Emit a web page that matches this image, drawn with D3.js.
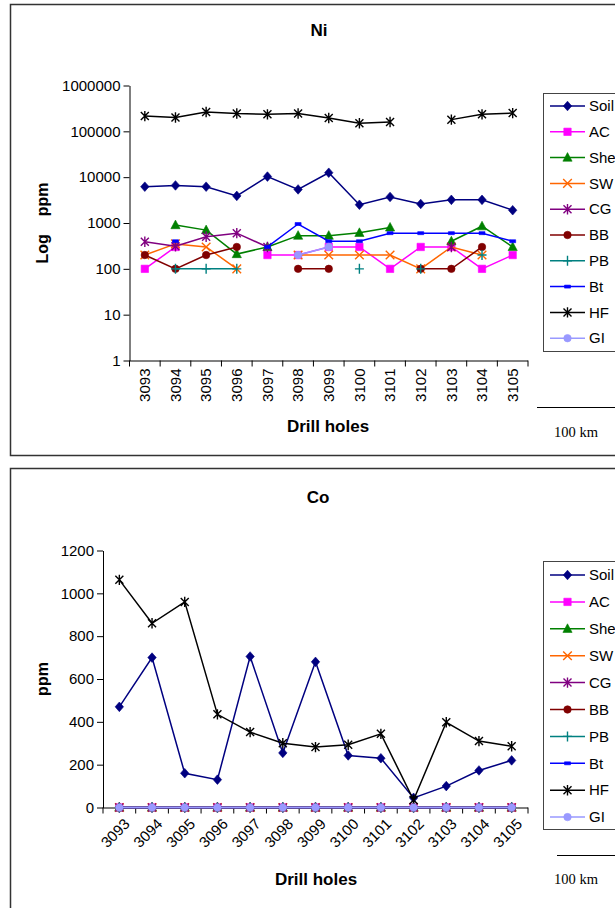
<!DOCTYPE html>
<html>
<head>
<meta charset="utf-8">
<script src="https://cdn.jsdelivr.net/npm/d3@7"></script>
<style>
  body { margin: 0; background: #fff; }
  svg { font-family: "Liberation Sans", Arial, sans-serif; }
</style>
</head>
<body>
<script>
const W = 615, H = 908

const HOLES = ['3093','3094','3095','3096','3097','3098','3099','3100','3101','3102','3103','3104','3105']
const SERIES = ['Soil','AC','She','SW','CG','BB','PB','Bt','HF','GI']
const COLORS = ['#000080','#ff00ff','#008000','#ff6600','#800080','#800000','#008080','#0000ff','#000000','#9999ff']
const MARKERS = ['diamond','square','triangle','x','star','circle','plus','dash','star','circle']

// Ni (ppm, log scale) - null = no sample
const NI_SOIL = [6200, 6600, 6200, 3900, 10300, 5400, 12500, 2500, 3700, 2600, 3200, 3200, 1900]
const NI_AC   = [100, 300, null, null, 200, 200, 300, 300, 100, 300, 300, 100, 200]
const NI_SHE  = [null, 900, 700, 210, 300, 530, 530, 610, 800, null, 400, 850, 300]
const NI_SW   = [200, 350, 300, 100, null, 200, 200, 200, 200, 100, 300, 200, null]
const NI_CG   = [390, 310, 500, 600, 300, null, null, null, null, null, 300, null, null]
const NI_BB   = [200, 100, 200, 300, null, 100, 100, null, null, 100, 100, 300, null]
const NI_PB   = [null, 100, 100, 100, null, null, null, 100, null, 100, null, 200, null]
const NI_BT   = [null, 400, null, null, 300, 950, 400, 400, 600, 600, 600, 600, 400]
const NI_HF   = [215000, 200000, 265000, 245000, 235000, 245000, 195000, 150000, 160000, null, 180000, 235000, 250000]
const NI_GI   = [null, null, null, null, null, 200, 300, null, null, null, null, null, null]
const NI_TICKS = [1, 10, 100, 1000, 10000, 100000, 1000000]

// Co (ppm)
const CO_SOIL = [470, 700, 160, 130, 705, 255, 680, 243, 230, 45, 100, 173, 220]
const CO_AC   = [0, 0, 0, 0, 0, 0, 0, 0, 0, 0, 0, 0, 0]
const CO_SHE  = [0, 0, 0, 0, 0, 0, 0, 0, 0, 0, 0, 0, 0]
const CO_SW   = [0, 0, 0, 0, 0, 0, 0, 0, 0, 0, 0, 0, 0]
const CO_CG   = [0, 0, 0, 0, 0, 0, 0, 0, 0, 0, 0, 0, 0]
const CO_BB   = [0, 0, 0, 0, 0, 0, 0, 0, 0, 0, 0, 0, 0]
const CO_PB   = [0, 0, 0, 0, 0, 0, 0, 0, 0, 0, 0, 0, 0]
const CO_BT   = [0, 0, 0, 0, 0, 0, 0, 0, 0, 0, 0, 0, 0]
const CO_HF   = [1063, 860, 960, 435, 352, 300, 282, 293, 344, 35, 398, 310, 286]
const CO_GI   = [0, 0, 0, 0, 0, 0, 0, 0, 0, 0, 0, 0, 0]
const CO_TICKS = [0, 200, 400, 600, 800, 1000, 1200]

const NI_DATA = [NI_SOIL, NI_AC, NI_SHE, NI_SW, NI_CG, NI_BB, NI_PB, NI_BT, NI_HF, NI_GI]
const CO_DATA = [CO_SOIL, CO_AC, CO_SHE, CO_SW, CO_CG, CO_BB, CO_PB, CO_BT, CO_HF, CO_GI]

const FILLED = ['diamond','square','triangle','circle','dash']

function marker_path(kind) {
  switch(kind) {
    case 'diamond':  return 'M0,-4.8L4.2,0L0,4.8L-4.2,0Z'
    case 'square':   return 'M-3.7,-3.7H3.7V3.7H-3.7Z'
    case 'triangle': return 'M0,-5L4.6,3.6H-4.6Z'
    case 'circle':   return d3.symbol(d3.symbolCircle, 44)()
    case 'dash':     return 'M-3,-1.5H3V1.5H-3Z'
    case 'x':        return 'M-4.3,-4.3L4.3,4.3M-4.3,4.3L4.3,-4.3'
    case 'plus':     return 'M-4.5,0H4.5M0,-5V5'
    case 'star':     return 'M-4,-4L4,4M-4,4L4,-4M0,-5.2V5.2'
  }
}

function draw_marker(sel, kind, color) {
  let filled = FILLED.indexOf(kind) >= 0
  sel.append('path')
    .attr('d', marker_path(kind))
    .attr('fill', filled ? color : 'none')
    .attr('stroke', color)
    .attr('stroke-width', filled ? 0.6 : 1.4)
}

let svg = d3.select('body').append('svg')
  .attr('width', W)
  .attr('height', H)

function panel(cfg) {
  let g = svg.append('g')

  // frame
  g.append('rect')
    .attr('x', 10.5).attr('y', cfg.frame[0] + 0.5)
    .attr('width', 700).attr('height', cfg.frame[1] - cfg.frame[0])
    .attr('fill', 'none').attr('stroke', '#333').attr('stroke-width', 1.5)

  g.append('text')
    .attr('x', cfg.titleX).attr('y', cfg.titleY)
    .attr('text-anchor', 'middle')
    .style('font-weight', 'bold').style('font-size', '17px')
    .text(cfg.title)

  let x = d3.scaleBand()
    .domain(HOLES)
    .range([cfg.left, 528])

  let y = cfg.y

  // y axis
  let yAxis = g.append('g')
    .attr('transform', 'translate(' + cfg.left + ',0)')
    .call(d3.axisLeft(y).tickValues(cfg.ticks).tickFormat(d3.format('d')).tickSize(6).tickSizeOuter(0))
  yAxis.select('.domain').attr('stroke', '#000')
  yAxis.selectAll('.tick text').style('font-size', '15px').attr('x', -9).attr('fill', '#000')

  g.append('text')
    .attr('transform', 'translate(' + cfg.yLabelX + ',' + (y.range()[0] + y.range()[1]) / 2 + ')rotate(-90)')
    .attr('text-anchor', 'middle')
    .attr('dy', '0.35em')
    .style('font-weight', 'bold').style('font-size', '16px')
    .style('white-space', 'pre')
    .text(cfg.yLabel)

  // x axis: ticks between categories, labels at centres
  let base = y.range()[0]
  g.append('line')
    .attr('x1', cfg.left).attr('x2', 528)
    .attr('y1', base + 0.5).attr('y2', base + 0.5)
    .attr('stroke', '#000')

  let bounds = HOLES.map((h) => x(h)).concat([x.range()[1]])
  g.selectAll('.xtick')
    .data(bounds)
    .enter().append('line')
      .attr('x1', (d) => d).attr('x2', (d) => d)
      .attr('y1', base).attr('y2', base + 6)
      .attr('stroke', '#000')

  let labels = g.selectAll('.xlabel')
    .data(HOLES)
    .enter().append('text')
      .style('font-size', '15px')
      .attr('text-anchor', 'end')
      .text((d) => d)

  if(cfg.rotate === -90) {
    labels.attr('transform', (d) => 'translate(' + (x(d) + x.bandwidth() / 2) + ',' + (base + 8) + ')rotate(-90)')
      .attr('dy', '0.35em')
  } else {
    labels.attr('transform', (d) => 'translate(' + (x(d) + x.bandwidth() / 2 + 4) + ',' + (base + 10) + ')rotate(-45)')
      .attr('dy', '0.7em')
  }

  g.append('text')
    .attr('x', cfg.xLabelX).attr('y', cfg.xLabelY)
    .attr('text-anchor', 'middle')
    .style('font-weight', 'bold').style('font-size', '17px')
    .text('Drill holes')

  // series
  let line = d3.line()
    .defined((d) => d.v !== null)
    .x((d) => x(d.h) + x.bandwidth() / 2)
    .y((d) => y(d.v))

  SERIES.forEach((s, i) => {
    let pts = HOLES.map((h, j) => ({ h: h, v: cfg.data[i][j] }))
    let sg = g.append('g').attr('class', 'series ' + s)

    sg.append('path')
      .datum(pts)
      .attr('d', line)
      .attr('fill', 'none')
      .attr('stroke', COLORS[i])
      .attr('stroke-width', 1.5)

    sg.selectAll('.pt')
      .data(pts.filter((d) => d.v !== null))
      .enter().append('g')
        .attr('transform', (d) => 'translate(' + (x(d.h) + x.bandwidth() / 2) + ',' + y(d.v) + ')')
        .each(function() { draw_marker(d3.select(this), MARKERS[i], COLORS[i]) })
  })

  // legend
  let lg = g.append('g')
  lg.append('rect')
    .attr('x', 543.5).attr('y', cfg.legend[0] + 0.5)
    .attr('width', 100).attr('height', cfg.legend[1] - cfg.legend[0])
    .attr('fill', '#fff').attr('stroke', '#444')

  let item = lg.selectAll('.item')
    .data(SERIES)
    .enter().append('g')
      .attr('transform', (d, i) => 'translate(0,' + (cfg.legendY + i * cfg.legendStep) + ')')

  item.append('line')
    .attr('x1', 550).attr('x2', 585)
    .attr('stroke', (d, i) => COLORS[i])
    .attr('stroke-width', 1.5)

  item.append('g')
    .attr('transform', 'translate(567.5,0)')
    .each(function(d, i) { draw_marker(d3.select(this), MARKERS[i], COLORS[i]) })

  item.append('text')
    .attr('x', 589).attr('dy', '0.35em')
    .style('font-size', '15px')
    .text((d) => d)

  // scale bar
  g.append('line')
    .attr('x1', cfg.bar[0]).attr('x2', 615)
    .attr('y1', cfg.bar[1]).attr('y2', cfg.bar[1])
    .attr('stroke', '#000')
  g.append('text')
    .attr('x', 576).attr('y', cfg.bar[2])
    .attr('text-anchor', 'middle')
    .style('font-family', '"Liberation Serif", "Times New Roman", serif')
    .style('font-size', '14.5px')
    .text('100 km')
}

panel({
  frame: [4, 455],
  title: 'Ni', titleX: 319, titleY: 36,
  left: 129.5,
  y: d3.scaleLog().domain([1, 1000000]).range([360.5, 85.5]),
  ticks: NI_TICKS,
  yLabel: 'Log    ppm', yLabelX: 42,
  rotate: -90,
  xLabelX: 328, xLabelY: 432,
  data: NI_DATA,
  legend: [93, 351], legendY: 106, legendStep: 25.8,
  bar: [537, 407.5, 437]
})

panel({
  frame: [468, 1000],
  title: 'Co', titleX: 318, titleY: 503,
  left: 103,
  y: d3.scaleLinear().domain([0, 1200]).range([807.5, 550.5]),
  ticks: CO_TICKS,
  yLabel: 'ppm', yLabelX: 42,
  rotate: -45,
  xLabelX: 316, xLabelY: 885,
  data: CO_DATA,
  legend: [561, 829], legendY: 575, legendStep: 26.9,
  bar: [557, 855.5, 884]
})
</script>
</body>
</html>
